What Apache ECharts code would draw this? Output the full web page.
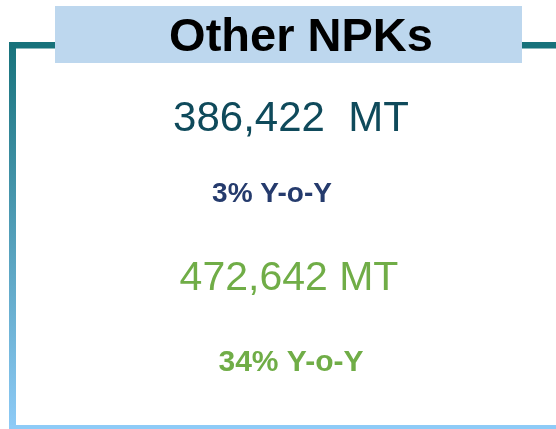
<!DOCTYPE html>
<html>
<head>
<meta charset="utf-8">
<script src="https://cdn.jsdelivr.net/npm/echarts@6/dist/echarts.min.js"></script>
<style>
    html, body { margin: 0; padding: 0; background: #fff; }
    #main { width: 556px; height: 429px; }
</style>
</head>
<body>
<div id="main"></div>
<script>
    // card content
    var title = 'Other NPKs';
    var volumes = [386422, 472642];
    var unitGap = ['  ', ' '];
    var unit = 'MT';
    var yoyPct = [3, 34];

    var font = '"Liberation Sans", Arial, sans-serif';
    var volColors = ['#0f4a5b', '#70ad47'];
    var yoyColors = ['#253b6d', '#70ad47'];

    // layout bits (centre x, cap-middle y)
    var volPos = [[291, 119], [289, 279]];
    var yoyPos = [[272, 194], [291, 363]];
    var volSize = [42, 41];
    var yoySize = [28, 30];

    var chart = echarts.init(document.getElementById('main'));

    var elements = [
        // frame
        {
            type: 'rect',
            shape: {x: 9, y: 42, width: 7, height: 387},
            style: {
                fill: new echarts.graphic.LinearGradient(0, 0, 0, 1, [
                    {offset: 0, color: '#17727b'},
                    {offset: 1, color: '#8ecbf7'}
                ])
            }
        },
        {type: 'rect', shape: {x: 9, y: 42, width: 547, height: 6.5}, style: {fill: '#17727b'}},
        {type: 'rect', shape: {x: 9, y: 425, width: 547, height: 4}, style: {fill: '#8ecbf7'}},
        // title box
        {type: 'rect', shape: {x: 55, y: 6, width: 467, height: 57}, style: {fill: '#bdd7ee'}},
        {
            type: 'text', x: 301, y: 38,
            style: {
                text: title, fill: '#000', font: 'bold 47px ' + font,
                align: 'center', verticalAlign: 'middle'
            }
        }
    ];

    volumes.forEach(function (v, i) {
        elements.push({
            type: 'text', x: volPos[i][0], y: volPos[i][1],
            style: {
                text: v.toLocaleString('en-US') + unitGap[i] + unit,
                fill: volColors[i], font: volSize[i] + 'px ' + font,
                align: 'center', verticalAlign: 'middle'
            }
        });
        elements.push({
            type: 'text', x: yoyPos[i][0], y: yoyPos[i][1],
            style: {
                text: yoyPct[i] + '% Y-o-Y',
                fill: yoyColors[i], font: 'bold ' + yoySize[i] + 'px ' + font,
                align: 'center', verticalAlign: 'middle'
            }
        });
    });

    chart.setOption({
        animation: false,
        graphic: {elements: elements}
    });
</script>
</body>
</html>
